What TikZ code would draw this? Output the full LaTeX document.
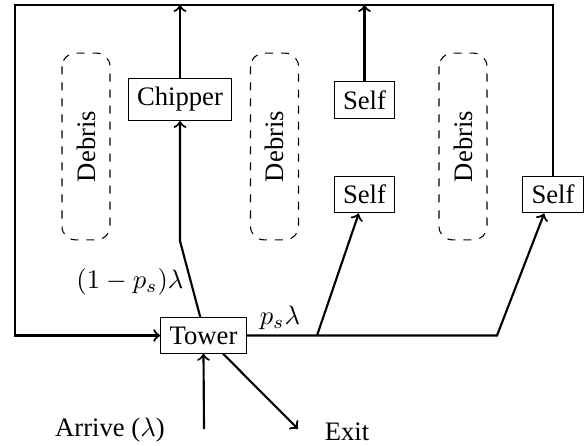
\documentclass[tikz,border=0pt]{standalone}
\usepackage[no-math]{fontspec}
\setmainfont{Liberation Serif}
\begin{document}
\begin{tikzpicture}[x=0.375pt,y=-0.375pt,
  box/.style={draw,thin,inner sep=0.3333em},
  debris/.style={draw,thin,dashed,rounded corners=5pt,rotate=90,minimum width=70pt,minimum height=18pt,inner sep=0pt},
  conn/.style={thick},
  arr/.style={thick,->}]
\useasboundingbox (0,0) rectangle (587,445);
\node[box] (tower) at (203.5,335.5) {Tower};
\node[box] (chipper) at (180,99.5) {Chipper};
\node[box] (selftop) at (364.5,100) {Self};
\node[box] (selfmid) at (364.5,194.5) {Self};
\node[box] (selfright) at (553,194.5) {Self};
\node[debris] (debris1) at (86,146.5) {Debris};
\node[debris] (debris2) at (274.5,146.5) {Debris};
\node[debris] (debris3) at (463,146.5) {Debris};
\coordinate (topleft) at (15,5);
\coordinate (bottomleft) at (15,335.5);
\coordinate (chipkink) at (180,241);
\coordinate (split) at (317,335.5);
\coordinate (split2) at (497,335.5);
\coordinate (arrive) at (204,429);
\coordinate (exitend) at (298,429);
\node (lblchip) at (130,282) {$(1-p_s)\lambda$};
\node (lblself) at (280,318) {$p_s\lambda$};
\node (lblarrive) at (110,430) {Arrive ($\lambda$)};
\node (lblexit) at (347,432) {Exit};
% loop back
\draw[arr] (selfright.north) |- (topleft) -- (bottomleft) -- (tower.west);
% chipper branch
\draw[arr] (tower.100) -- (chipkink) -- (chipper.south);
\draw[arr] (chipper.north) -- (chipper.north |- topleft);
\draw[arr] (selftop.north) -- (selftop.north |- topleft);
% self branches
\draw[arr] (tower.east) -- (split2) -- (selfright.-115);
\draw[arr] (split) -- (selfmid.-107);
% arrive and exit
\draw[arr] (arrive) -- (tower.south);
\draw[arr] (tower.-43) -- (exitend);
\end{tikzpicture}
\end{document}
